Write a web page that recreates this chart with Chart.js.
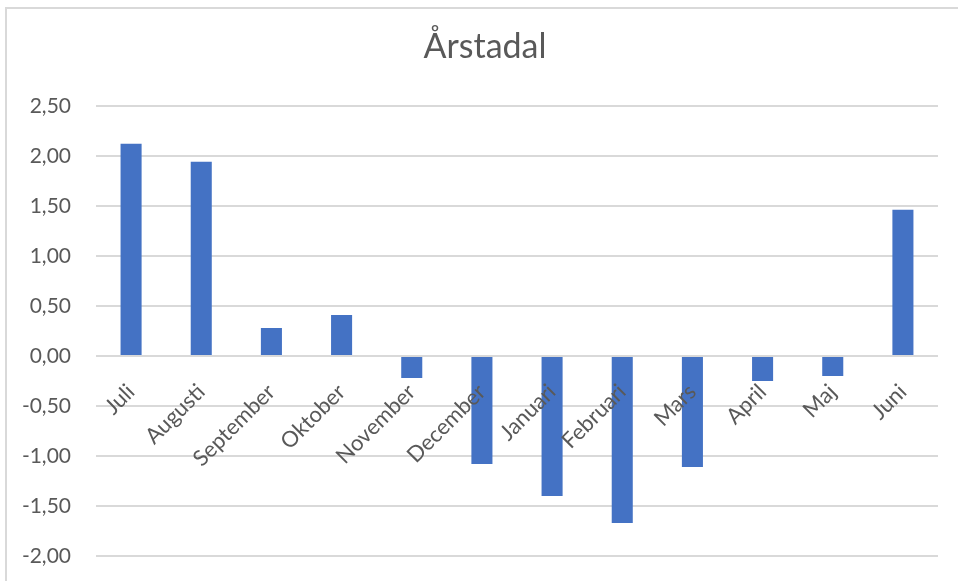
<!DOCTYPE html>
<html>
<head>
<meta charset="utf-8">
<script src="https://cdn.jsdelivr.net/npm/chart.js@4/dist/chart.umd.min.js"></script>
<style>
    body { margin: 0; background: #fff; overflow: hidden; }
    #frame {
        position: absolute; left: 5px; top: 7px;
        width: 2000px; height: 2000px;
        border-left: 2px solid #d9d9d9;
        border-top: 2px solid #d9d9d9;
    }
    #wrap { position: absolute; left: 0; top: 0; width: 958px; height: 581px; }
</style>
</head>
<body>
<div id="frame"></div>
<div id="wrap"><canvas id="arstadalChart"></canvas></div>
<script>
    const months = ['Juli', 'Augusti', 'September', 'Oktober', 'November', 'December',
                    'Januari', 'Februari', 'Mars', 'April', 'Maj', 'Juni'];
    const values = [2.12, 1.94, 0.28, 0.41, -0.22, -1.08, -1.40, -1.67, -1.11, -0.25, -0.20, 1.46];
    const yMin = -2;
    const yMax = 2.5;
    const yStep = 0.5;

    const textColor = '#595959';
    const gridColor = '#d9d9d9';

    const ctx = document.getElementById('arstadalChart');

    // title is centred on the whole frame, but the y labels still need room on the left
    const yLabelRoom = {
        id: 'yLabelRoom',
        afterLayout: function (chart) {
            chart.scales.y.left = 0;
        }
    };

    new Chart(ctx, {
        type: 'bar',
        data: {
            labels: months,
            datasets: [
                {
                    label: 'Årstadal',
                    data: values,
                    backgroundColor: '#4472c4',
                    borderWidth: 0,
                    categoryPercentage: 1,
                    barPercentage: 0.3
                }
            ]
        },
        options: {
            responsive: true,
            maintainAspectRatio: false,
            animation: false,
            layout: {
                padding: { left: 32, right: 20, top: 0, bottom: 25 }
            },
            plugins: {
                legend: { display: false },
                tooltip: { enabled: false },
                title: {
                    display: true,
                    text: 'Årstadal',
                    color: textColor,
                    font: { family: 'Lato', size: 34, weight: 'normal' },
                    padding: { top: 27, bottom: 38 }
                }
            },
            scales: {
                x: {
                    position: { y: 0 },
                    grid: { display: false },
                    border: { display: false },
                    ticks: {
                        z: 1,
                        color: textColor,
                        font: { family: 'Lato', size: 22 },
                        autoSkip: false,
                        maxRotation: 45,
                        minRotation: 45,
                        padding: 15
                    }
                },
                y: {
                    min: yMin,
                    max: yMax,
                    grid: {
                        color: gridColor,
                        lineWidth: 2,
                        drawTicks: true,
                        tickLength: 20,
                        tickColor: 'rgba(0,0,0,0)'
                    },
                    border: { display: false },
                    ticks: {
                        stepSize: yStep,
                        color: textColor,
                        font: { family: 'Lato', size: 21 },
                        padding: 5,
                        callback: function (value) {
                            return value.toFixed(2).replace('.', ',');
                        }
                    },
                    afterFit: function (scale) {
                        scale.width = 64;
                    }
                }
            }
        },
        plugins: [yLabelRoom]
    });
</script>
</body>
</html>
